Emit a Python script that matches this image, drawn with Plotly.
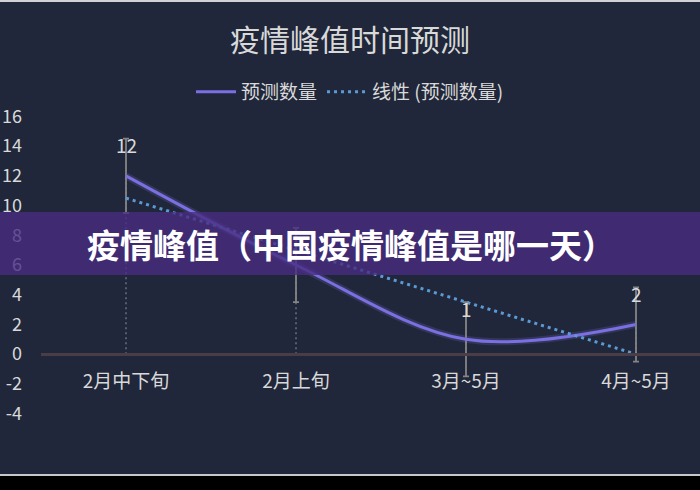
import plotly.graph_objects as go

# data
categories = ['2月中下旬', '2月上旬', '3月~5月', '4月~5月']
forecast = [12, 6, 1, 2]
point_labels = ['12', '', '1', '2']  # the label of 2月上旬 is hidden behind the banner
trend = [10.5, 7, 3.5, 0]
error = [2.5, 2.5, 2.5, 2.5]
y_ticks = [-4, -2, 0, 2, 4, 6, 8, 10, 12, 14, 16]

W, H = 700, 490
ML, MR, MT, MB = 41, 0, 109, 69
PW, PH = W - ML - MR, H - MT - MB


def px_x(px):
    return (px - ML) / PW


def px_y(py):
    return (H - MB - py) / PH


BG = '#20273a'
TXT = '#d9d9d9'
FONT = 'Noto Sans CJK SC, Noto Sans, sans-serif'

fig = go.Figure()

# drop lines from each point to the axis
drop_x, drop_y = [], []
for c, v in zip(categories, forecast):
    drop_x += [c, c, None]
    drop_y += [0, v, None]
fig.add_trace(go.Scatter(
    x=drop_x, y=drop_y, mode='lines',
    line=dict(color='#6b6f7c', width=1.5, dash='2px,3px'),
    showlegend=False, hoverinfo='skip'
))

# soft glow under the main line
fig.add_trace(go.Scatter(
    x=categories, y=forecast, mode='lines',
    line=dict(color='rgba(150,135,255,0.16)', width=7, shape='spline', smoothing=1),
    showlegend=False, hoverinfo='skip'
))

# error bars
fig.add_trace(go.Scatter(
    x=categories, y=forecast, mode='markers',
    marker=dict(size=1, color='rgba(0,0,0,0)'),
    error_y=dict(type='data', array=error, color='#858585', thickness=1.8, width=3),
    showlegend=False, hoverinfo='skip'
))

fig.add_trace(go.Scatter(
    x=categories, y=forecast, mode='lines', name='预测数量',
    line=dict(color='#7b6fe2', width=3, shape='spline', smoothing=1)
))

fig.add_trace(go.Scatter(
    x=categories, y=trend, mode='lines', name='线性 (预测数量)',
    line=dict(color='#5b9bd5', width=3, dash='3px,4px')
))

# data labels
for c, v, t in zip(categories, forecast, point_labels):
    if t:
        fig.add_annotation(x=c, y=v, text=t, showarrow=False, yshift=31,
                           font=dict(size=19, color=TXT, family=FONT))

# banner over the chart
fig.add_shape(type='rect', xref='paper', yref='paper', layer='above',
              x0=px_x(0), x1=px_x(W), y0=px_y(275), y1=px_y(212),
              fillcolor='rgba(72,45,130,0.8)', line=dict(width=0))
fig.add_annotation(xref='paper', yref='paper', x=px_x(351), y=px_y(244),
                   text='<b>疫情峰值（中国疫情峰值是哪一天）</b>', showarrow=False,
                   font=dict(size=33, color='white', family=FONT))

# screenshot edges
fig.add_shape(type='rect', xref='paper', yref='paper', layer='above',
              x0=px_x(0), x1=px_x(W), y0=px_y(H), y1=px_y(476),
              fillcolor='black', line=dict(width=0))
fig.add_shape(type='rect', xref='paper', yref='paper', layer='above',
              x0=px_x(0), x1=px_x(W), y0=px_y(476), y1=px_y(474),
              fillcolor='#c8c8cc', line=dict(width=0))
fig.add_shape(type='rect', xref='paper', yref='paper', layer='above',
              x0=px_x(0), x1=px_x(W), y0=px_y(2), y1=px_y(0),
              fillcolor='#d0d0d6', line=dict(width=0))

fig.update_layout(
    width=W, height=H,
    margin=dict(l=ML, r=MR, t=MT, b=MB, autoexpand=False),
    paper_bgcolor=BG, plot_bgcolor=BG,
    font=dict(family=FONT, color=TXT),
    title=dict(text='疫情峰值时间预测', x=0.5, xref='container', xanchor='center',
               y=1 - 40 / H, yref='container', yanchor='middle',
               font=dict(size=30, color=TXT, family=FONT)),
    showlegend=True,
    legend=dict(orientation='h', xref='container', x=0.5, xanchor='center',
                yref='container', y=1 - 92 / H, yanchor='middle',
                font=dict(size=19, color=TXT), bgcolor='rgba(0,0,0,0)',
                itemwidth=40, tracegroupgap=0),
)

zero_pos = px_y(354)
fig.update_xaxes(
    type='category', range=[-0.5, -0.5 + PW / 170],
    anchor='free', position=zero_pos, automargin=False,
    showline=True, linecolor='#4b3d46', linewidth=3,
    showgrid=False, zeroline=False, ticks='',
    ticklabelstandoff=9,
    tickfont=dict(size=19, color=TXT, family=FONT)
)
fig.update_yaxes(
    range=[-4.5, 16.5], tickvals=y_ticks, ticktext=[str(v) for v in y_ticks],
    automargin=False,
    showgrid=False, zeroline=False, showline=False, ticks='',
    ticklabelstandoff=18,
    tickfont=dict(size=18, color=TXT, family=FONT)
)

fig.write_html('out.html',
               config={'displayModeBar': False},
               post_script="document.body.style.margin='0';"
                           "document.body.style.background='#20273a';")
